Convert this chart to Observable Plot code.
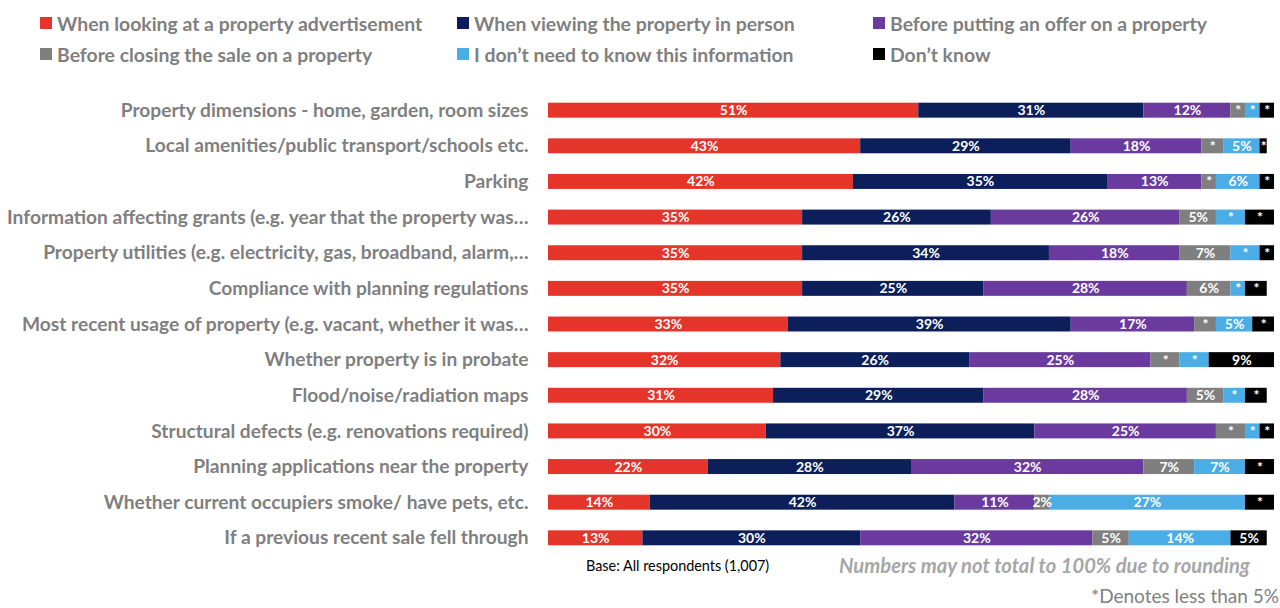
<!DOCTYPE html>
<html><head><meta charset="utf-8">
<script src="https://cdn.jsdelivr.net/npm/d3@7"></script>
<script src="https://cdn.jsdelivr.net/npm/@observablehq/plot@0.6"></script>
<style>
body{margin:0;background:#fff;font-family:Lato,"Open Sans",sans-serif;}
#wrap{position:relative;width:1280px;height:608px;overflow:hidden;}
.leg{position:absolute;font-weight:bold;font-size:19.4px;color:#7f7f7f;white-space:nowrap;display:flex;align-items:center;}
.leg span.sw{display:inline-block;width:12px;height:12px;margin-right:5px;}
#chart{position:absolute;left:0;top:82px;}
.foot{position:absolute;white-space:nowrap;}
</style></head>
<body><div id="wrap"></div>
<script>
const categories = [
  "Property dimensions - home, garden, room sizes",
  "Local amenities/public transport/schools etc.",
  "Parking",
  "Information affecting grants (e.g. year that the property was…",
  "Property utilities (e.g. electricity, gas, broadband, alarm,…",
  "Compliance with planning regulations",
  "Most recent usage of property (e.g. vacant, whether it was…",
  "Whether property is in probate",
  "Flood/noise/radiation maps",
  "Structural defects (e.g. renovations required)",
  "Planning applications near the property",
  "Whether current occupiers smoke/ have pets, etc.",
  "If a previous recent sale fell through"
];
const seriesNames = [
  "When looking at a property advertisement",
  "When viewing the property in person",
  "Before putting an offer on a property",
  "Before closing the sale on a property",
  "I don\u2019t need to know this information",
  "Don\u2019t know"
];
const colors = ["#e5352b", "#0c1f5b", "#6b3a9e", "#7f7f7f", "#4aade6", "#000000"];

const advert   = [51, 43, 42, 35, 35, 35, 33, 32, 31, 30, 22, 14, 13];
const viewing  = [31, 29, 35, 26, 34, 25, 39, 26, 29, 37, 28, 42, 30];
const offer    = [12, 18, 13, 26, 18, 28, 17, 25, 28, 25, 32, 11, 32];
const closing  = [2, 3, 2, 5, 7, 6, 3, 4, 5, 4, 7, 2, 5];
const noNeed   = [2, 5, 6, 4, 4, 2, 5, 4, 3, 2, 7, 27, 14];
const dontKnow = [2, 1, 2, 4, 2, 3, 3, 9, 3, 2, 4, 4, 5];

const advertLbl   = ["51%","43%","42%","35%","35%","35%","33%","32%","31%","30%","22%","14%","13%"];
const viewingLbl  = ["31%","29%","35%","26%","34%","25%","39%","26%","29%","37%","28%","42%","30%"];
const offerLbl    = ["12%","18%","13%","26%","18%","28%","17%","25%","28%","25%","32%","11%","32%"];
const closingLbl  = ["*","*","*","5%","7%","6%","*","*","5%","*","7%","2%","5%"];
const noNeedLbl   = ["*","5%","6%","*","*","*","5%","*","*","*","7%","27%","14%"];
const dontKnowLbl = ["*","*","*","*","*","*","*","9%","*","*","*","*","5%"];

const seriesValues = [advert, viewing, offer, closing, noNeed, dontKnow];
const seriesLabels = [advertLbl, viewingLbl, offerLbl, closingLbl, noNeedLbl, dontKnowLbl];

const rows = [];
categories.forEach((c, i) => {
  seriesNames.forEach((s, j) => {
    rows.push({cat: c, series: s, value: seriesValues[j][i], label: seriesLabels[j][i]});
  });
});

const wrap = document.getElementById("wrap");

// legend
const legPos = [[40,23],[457,23],[873,23],[40,54],[457,54],[873,54]];
seriesNames.forEach((s, j) => {
  const d = document.createElement("div");
  d.className = "leg";
  d.style.left = legPos[j][0] + "px";
  d.style.top = (legPos[j][1] - 12) + "px";
  d.style.height = "24px";
  d.innerHTML = `<span class="sw" style="background:${colors[j]}"></span>${s}`;
  wrap.appendChild(d);
});

const chart = Plot.plot({
  width: 1280,
  height: 484,
  marginLeft: 548,
  marginRight: 6,
  marginTop: 10,
  marginBottom: 10,
  x: {domain: [0, 100], axis: null},
  y: {domain: categories, paddingInner: 0.58, paddingOuter: 0.3, round: false, label: null},
  color: {domain: seriesNames, range: colors},
  style: {fontFamily: "Lato, 'Open Sans', sans-serif", background: "#fff"},
  marks: [
    Plot.barX(rows, Plot.stackX({x: "value", y: "cat", fill: "series", order: seriesNames})),
    Plot.text(rows, Plot.stackX({x: "value", y: "cat", z: "series", text: "label", order: seriesNames,
      fill: "white", fontWeight: "bold", fontSize: 14})),
    Plot.axisY({tickSize: 0, tickPadding: 20, fontSize: 19.2, fontWeight: "bold", fill: "#7f7f7f", label: null})
  ]
});
chart.id = "chart";
wrap.appendChild(chart);

const f1 = document.createElement("div");
f1.className = "foot";
f1.style.cssText += "left:586px;top:557px;font-size:14.4px;color:#000;";
f1.textContent = "Base: All respondents (1,007)";
wrap.appendChild(f1);

const f2 = document.createElement("div");
f2.className = "foot";
f2.style.cssText += "right:30px;top:553px;font-size:20.2px;color:#a6a6a6;font-style:italic;font-weight:bold;";
f2.textContent = "Numbers may not total to 100% due to rounding";
wrap.appendChild(f2);

const f3 = document.createElement("div");
f3.className = "foot";
f3.style.cssText += "right:1px;top:584px;font-size:19px;color:#7f7f7f;";
f3.textContent = "*Denotes less than 5%";
wrap.appendChild(f3);
</script></body></html>
